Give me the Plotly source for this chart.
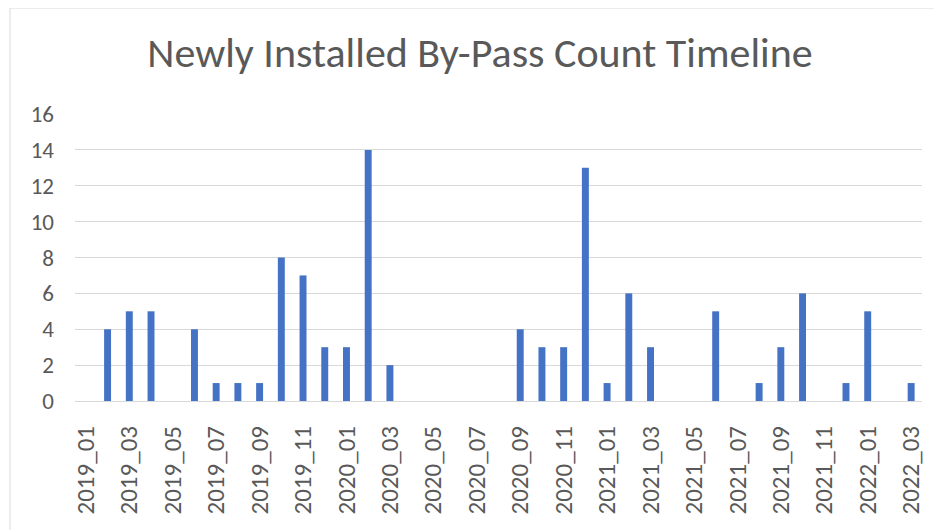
import plotly.graph_objects as go

months = [f"{y}_{m:02d}" for y in (2019, 2020, 2021, 2022) for m in range(1, 13)]
categories = months[:39]  # 2019_01 .. 2022_03
counts = [0, 4, 5, 5, 0, 4, 1, 1, 1, 8, 7, 3, 3, 14, 2,
          0, 0, 0, 0, 0,
          4, 3, 3, 13, 1, 6, 3, 0, 0, 5, 0, 1, 3, 6, 0, 1, 5, 0, 1]
tick_labels = categories[::2]
y_ticks = [0, 2, 4, 6, 8, 10, 12, 14, 16]

FONT = "Carlito, Calibri, 'Open Sans', sans-serif"
OFF = 8  # browser body margin

W, H = 942 - OFF, 530 - OFF
L, T, R, B = 75 - OFF, 114 - OFF, 20, 129
PW, PH = W - L - R, H - T - B

fig = go.Figure(go.Bar(x=categories, y=counts, marker=dict(color="#4472C4", line=dict(width=0))))

fig.update_layout(
    width=W, height=H,
    margin=dict(l=L, r=R, t=T, b=B),
    paper_bgcolor="white", plot_bgcolor="white",
    bargap=0.68,
    showlegend=False,
    title=dict(text="Newly Installed By-Pass Count Timeline", x=(480 - OFF) / W, xanchor="center",
               y=1 - (52 - OFF) / H, yanchor="middle",
               font=dict(family=FONT, size=42, color="#595959")),
    font=dict(family=FONT, color="#595959"),
)
fig.update_xaxes(type="category", tickmode="array", tickvals=tick_labels, ticktext=tick_labels,
                 tickangle=-90, tickfont=dict(size=25, color="#595959"),
                 showgrid=False, showline=True, linecolor="#D9D9D9", linewidth=1,
                 ticks="", range=[-0.5, 38.5], ticklabelstandoff=14, automargin=False)
fig.update_yaxes(range=[0, 16], tickmode="array", tickvals=y_ticks,
                 tickfont=dict(size=23, color="#595959"),
                 showgrid=True, gridcolor="#D9D9D9", gridwidth=1,
                 zeroline=False, showline=False, ticks="", ticklabelstandoff=20, automargin=False)
fig.add_shape(type="rect", xref="paper", yref="paper",
              x0=-(L - 2) / PW, x1=1 + (R - 2) / PW, y0=-(B + 10) / PH, y1=1 + (T - 0) / PH,
              line=dict(color="#D9D9D9", width=1), fillcolor="rgba(0,0,0,0)", layer="below")

fig.write_html("out.html")
